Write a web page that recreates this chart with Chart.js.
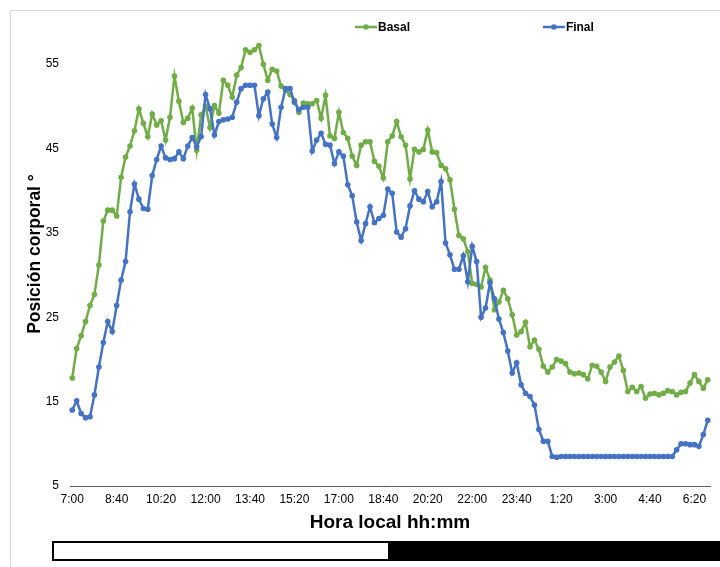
<!DOCTYPE html>
<html>
<head>
<meta charset="utf-8">
<script src="https://cdn.jsdelivr.net/npm/chart.js@4/dist/chart.umd.min.js"></script>
<style>
  html, body { margin: 0; padding: 0; background: #fff; width: 720px; height: 567px; overflow: hidden; }
  #marco { position: absolute; left: 10px; top: 10px; width: 730px; height: 600px;
           border-left: 1px solid #d9d9d9; border-top: 1px solid #d9d9d9; }
  #lienzo { position: absolute; left: 0; top: 0; }
  .fotoperiodo { position: absolute; top: 541px; height: 20px; box-sizing: border-box; }
  #luz { left: 52px; width: 338px; border: 2px solid #000; background: #fff; }
  #oscuridad { left: 388px; width: 332px; background: #000; }
</style>
</head>
<body>
<div id="marco"></div>
<canvas id="lienzo" width="720" height="567"></canvas>
<div class="fotoperiodo" id="luz"></div>
<div class="fotoperiodo" id="oscuridad"></div>
<script>
// Registro cada 10 min, de 7:00 a 6:50 del día siguiente
const horas = [];
for (let m = 0; m < 144 * 10; m += 10) {
  const t = (7 * 60 + m) % (24 * 60);
  horas.push(Math.floor(t / 60) + ':' + String(t % 60).padStart(2, '0'));
}

// Etiquetas visibles del eje horizontal
const etiquetasX = ['7:00', '8:40', '10:20', '12:00', '13:40', '15:20', '17:00', '18:40',
                    '20:20', '22:00', '23:40', '1:20', '3:00', '4:40', '6:20'];
const ticksY = [5, 15, 25, 35, 45, 55];

// Posición corporal (°)
const basal = [
  17.8, 21.3, 22.8, 24.5, 26.4, 27.7, 31.2, 36.4, 37.7, 37.7,
  37.0, 41.6, 44.0, 45.3, 47.1, 49.7, 48.0, 46.4, 49.1, 47.8,
  48.3, 46.0, 48.7, 53.6, 50.6, 48.1, 48.6, 49.8, 44.8, 49.0,
  50.0, 47.5, 50.1, 49.2, 53.1, 52.5, 51.1, 53.7, 54.6, 56.7,
  56.4, 56.7, 57.2, 55.0, 53.1, 54.4, 54.2, 52.4, 51.9, 51.4,
  50.7, 49.3, 50.4, 50.3, 50.3, 50.7, 48.6, 51.3, 46.5, 46.2,
  49.3, 46.9, 46.2, 44.1, 43.0, 45.4, 45.8, 45.8, 43.5, 42.9,
  41.5, 45.8, 46.5, 48.2, 46.4, 45.4, 41.4, 44.9, 44.6, 44.9,
  47.2, 44.6, 44.5, 43.0, 42.6, 41.3, 37.8, 34.7, 34.3, 32.8,
  29.0, 28.9, 28.6, 30.9, 29.4, 25.9, 26.8, 28.2, 27.2, 25.3,
  22.9, 23.3, 24.4, 21.5, 22.3, 21.2, 19.2, 18.5, 19.1, 20.0,
  19.8, 19.5, 18.5, 18.3, 18.4, 18.2, 17.7, 19.3, 19.2, 18.5,
  17.4, 19.1, 19.7, 20.4, 18.7, 16.2, 16.7, 16.2, 16.8, 15.4,
  15.9, 16.0, 15.8, 16.0, 16.3, 16.2, 15.8, 16.1, 16.2, 17.2,
  18.2, 17.4, 16.6, 17.6
];

const final = [
  14.0, 15.1, 13.6, 13.1, 13.2, 15.8, 19.1, 22.0, 24.5, 23.3,
  26.4, 29.4, 31.6, 37.5, 40.8, 39.0, 37.9, 37.8, 41.8, 43.7,
  45.3, 43.9, 43.7, 43.8, 44.6, 43.8, 45.3, 46.3, 45.2, 46.4,
  51.4, 49.7, 46.6, 48.2, 48.4, 48.5, 48.7, 50.5, 52.1, 52.5,
  52.5, 52.5, 48.9, 50.9, 51.7, 47.9, 46.3, 49.9, 52.1, 52.1,
  50.5, 49.6, 49.9, 49.9, 44.7, 46.0, 46.8, 45.5, 45.4, 43.2,
  44.6, 44.1, 40.7, 39.4, 36.3, 34.1, 36.1, 38.1, 36.2, 36.7,
  37.1, 40.2, 39.7, 35.1, 34.5, 35.5, 38.2, 40.0, 39.0, 38.7,
  39.9, 38.1, 38.7, 41.1, 33.8, 32.4, 30.7, 30.7, 32.3, 29.2,
  33.4, 31.6, 25.0, 26.1, 29.1, 27.2, 24.8, 23.2, 21.0, 18.4,
  19.6, 17.0, 16.0, 15.6, 14.6, 11.7, 10.3, 10.3, 8.5, 8.4,
  8.5, 8.5, 8.5, 8.5, 8.5, 8.5, 8.5, 8.5, 8.5, 8.5,
  8.5, 8.5, 8.5, 8.5, 8.5, 8.5, 8.5, 8.5, 8.5, 8.5,
  8.5, 8.5, 8.5, 8.5, 8.5, 8.5, 9.3, 10.0, 10.0, 9.9,
  9.9, 9.7, 11.1, 12.8
];

const VERDE = '#70AD47';
const AZUL = '#4472C4';
const FUENTE = "'Liberation Sans', Arial, Helvetica, sans-serif";

// Leyenda tipo Excel: trazo con marcador y nombre en negrita
const leyenda = {
  id: 'leyenda',
  afterDraw(chart) {
    const ctx = chart.ctx;
    const w = chart.width;
    const posiciones = [0.493, 0.754];
    const orden = ['Basal', 'Final'];
    ctx.save();
    orden.forEach((nombre, k) => {
      const ds = chart.data.datasets.find(d => d.label === nombre);
      const x0 = w * posiciones[k];
      const y = 27;
      ctx.strokeStyle = ds.borderColor;
      ctx.lineWidth = 2.5;
      ctx.beginPath();
      ctx.moveTo(x0, y);
      ctx.lineTo(x0 + 22, y);
      ctx.stroke();
      ctx.fillStyle = ds.borderColor;
      ctx.beginPath();
      ctx.arc(x0 + 11, y, 2.8, 0, Math.PI * 2);
      ctx.fill();
      ctx.fillStyle = '#000';
      ctx.font = 'bold 12px ' + FUENTE;
      ctx.textBaseline = 'middle';
      ctx.textAlign = 'left';
      ctx.fillText(nombre, x0 + 23, y + 1);
    });
    ctx.restore();
  }
};

new Chart(document.getElementById('lienzo'), {
  type: 'line',
  data: {
    labels: horas,
    datasets: [
      {
        label: 'Final', data: final, order: 0,
        borderColor: AZUL, backgroundColor: AZUL, borderWidth: 2.5,
        pointRadius: 2.8, pointBorderWidth: 0, pointBackgroundColor: AZUL, tension: 0
      },
      {
        label: 'Basal', data: basal, order: 1,
        borderColor: VERDE, backgroundColor: VERDE, borderWidth: 2.5,
        pointRadius: 2.8, pointBorderWidth: 0, pointBackgroundColor: VERDE, tension: 0
      }
    ]
  },
  options: {
    responsive: false,
    animation: false,
    devicePixelRatio: 1,
    layout: { padding: { top: 22, right: 10, left: 0, bottom: 0 } },
    plugins: { legend: { display: false }, tooltip: { enabled: false } },
    scales: {
      x: {
        type: 'category',
        offset: true,
        grid: { display: false, drawTicks: false },
        border: { display: true, color: '#595959', width: 1 },
        ticks: {
          autoSkip: false, maxRotation: 0, minRotation: 0, padding: 6,
          color: '#000', font: { family: FUENTE, size: 12 },
          callback: function (v) {
            const l = this.getLabelForValue(v);
            return etiquetasX.includes(l) ? l : '';
          }
        },
        title: {
          display: true, text: 'Hora local hh:mm', color: '#000',
          font: { family: FUENTE, size: 19, weight: 'bold' },
          padding: { top: 0, bottom: 33 }
        },
        afterFit: s => { s.height = 81; }
      },
      y: {
        min: 5, max: 60,
        grid: { display: false, drawTicks: false },
        border: { display: false },
        afterBuildTicks: s => { s.ticks = ticksY.map(v => ({ value: v })); },
        ticks: { padding: 11, color: '#000', font: { family: FUENTE, size: 12 } },
        title: {
          display: true, text: 'Posición corporal °', color: '#000',
          font: { family: FUENTE, size: 17.5, weight: 'bold' },
          padding: { top: 25, bottom: 0 }
        },
        afterFit: s => { s.width = 70; }
      }
    }
  },
  plugins: [leyenda]
});
</script>
</body>
</html>
